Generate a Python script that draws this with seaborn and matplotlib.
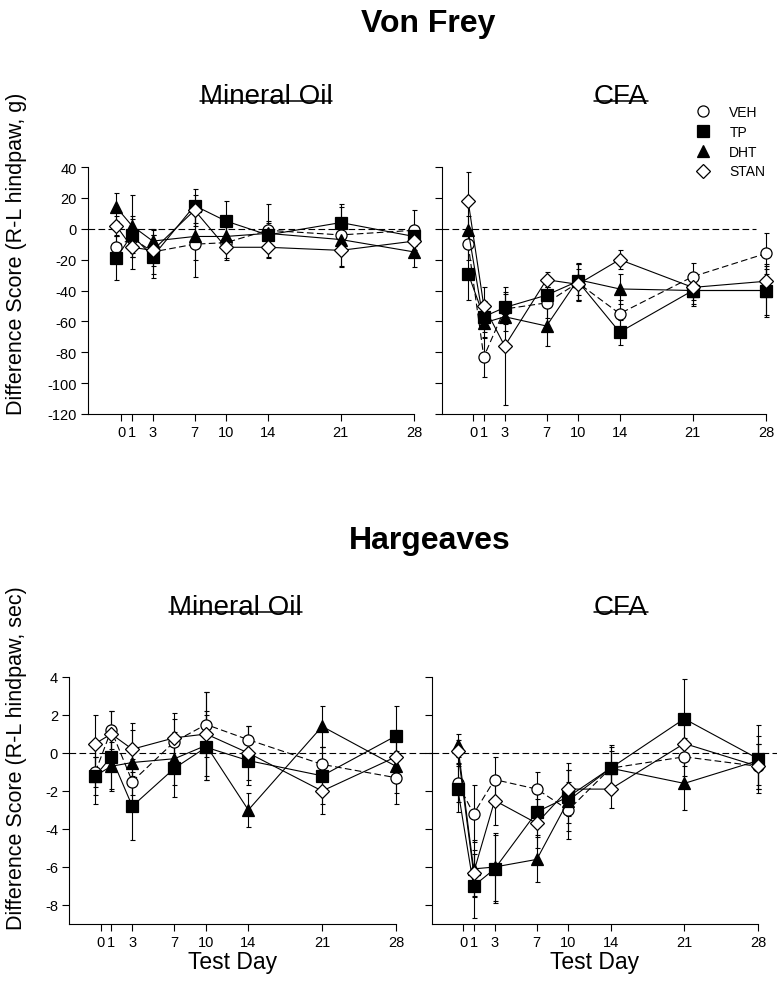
import numpy as np
import pandas as pd
import matplotlib
matplotlib.use("Agg")
import matplotlib.pyplot as plt
import seaborn as sns
from matplotlib.lines import Line2D

sns.set_theme(style="ticks")
plt.rcParams["font.family"] = ["Liberation Sans", "DejaVu Sans"]
plt.rcParams["text.color"] = "black"
plt.rcParams["axes.labelcolor"] = "black"
plt.rcParams["xtick.color"] = "black"
plt.rcParams["ytick.color"] = "black"

# ---------------------------------------------------------------- data
groups = ["VEH", "TP", "DHT", "STAN"]
test_days = [-0.5, 1, 3, 7, 10, 14, 21, 28]   # baseline plotted just before day 0
day_ticks = [0, 1, 3, 7, 10, 14, 21, 28]
vf_ticks = [-120, -100, -80, -60, -40, -20, 0, 20, 40]
hg_ticks = [-8, -6, -4, -2, 0, 2, 4]

# Von Frey (g), Mineral Oil
vf_mo_mean = {"VEH": [-12, -6, -15, -10, -9, -1, -4, -1],
              "TP": [-19, -4, -18, 15, 5, -4, 4, -5],
              "DHT": [14, 2, -8, -5, -5, -3, -7, -15],
              "STAN": [2, -12, -14, 12, -12, -12, -14, -8]}
vf_mo_se = {"VEH": [7, 12, 14, 21, 10, 17, 20, 13],
            "TP": [14, 12, 14, 11, 13, 8, 10, 6],
            "DHT": [9, 20, 8, 15, 8, 8, 9, 10],
            "STAN": [6, 14, 10, 10, 8, 7, 11, 8]}

# Von Frey (g), CFA
vf_cfa_mean = {"VEH": [-10, -83, -52, -48, -35, -55, -31, -16],
               "TP": [-29, -57, -51, -43, -34, -67, -40, -40],
               "DHT": [-1, -61, -57, -63, -33, -39, -40, -40],
               "STAN": [18, -50, -76, -33, -36, -20, -38, -34]}
vf_cfa_se = {"VEH": [10, 13, 10, 10, 12, 9, 9, 13],
             "TP": [17, 10, 10, 8, 12, 8, 10, 16],
             "DHT": [9, 10, 9, 13, 10, 10, 9, 17],
             "STAN": [19, 12, 38, 5, 10, 6, 8, 8]}

# Hargreaves (sec), Mineral Oil
hg_mo_mean = {"VEH": [-1.0, 1.2, -1.5, 0.6, 1.5, 0.7, -0.6, -1.3],
              "TP": [-1.2, -0.2, -2.8, -0.8, 0.3, -0.4, -1.2, 0.9],
              "DHT": [-1.2, -0.7, -0.5, -0.3, 0.4, -3.0, 1.4, -0.7],
              "STAN": [0.5, 1.0, 0.2, 0.8, 1.0, 0.0, -2.0, -0.2]}
hg_mo_se = {"VEH": [0.8, 1.0, 1.2, 1.2, 1.7, 0.7, 0.9, 1.4],
            "TP": [1.5, 1.7, 1.8, 1.5, 1.7, 1.3, 1.5, 1.6],
            "DHT": [1.0, 1.3, 1.7, 1.4, 1.8, 0.9, 1.1, 1.4],
            "STAN": [1.5, 1.2, 1.4, 1.3, 2.2, 1.4, 1.2, 1.4]}

# Hargreaves (sec), CFA
hg_cfa_mean = {"VEH": [-1.6, -3.2, -1.4, -1.9, -3.0, -0.8, -0.2, -0.7],
               "TP": [-1.9, -7.0, -6.1, -3.1, -2.3, -0.8, 1.8, -0.3],
               "DHT": [0.4, -6.1, -6.0, -5.6, -2.5, -0.8, -1.6, -0.4],
               "STAN": [0.1, -6.3, -2.5, -3.7, -1.9, -1.9, 0.5, -0.7]}
hg_cfa_se = {"VEH": [1.0, 1.5, 1.2, 0.9, 1.5, 0.9, 1.0, 1.2],
             "TP": [1.2, 1.7, 1.8, 1.2, 1.4, 1.2, 2.1, 1.8],
             "DHT": [0.6, 1.5, 1.8, 1.2, 1.6, 1.1, 1.4, 1.3],
             "STAN": [0.6, 1.2, 1.3, 1.3, 1.4, 1.0, 1.2, 1.2]}

# ---------------------------------------------------------------- tidy table
rows = []
for test, treat, means, ses in [("Von Frey", "Mineral Oil", vf_mo_mean, vf_mo_se),
                                ("Von Frey", "CFA", vf_cfa_mean, vf_cfa_se),
                                ("Hargeaves", "Mineral Oil", hg_mo_mean, hg_mo_se),
                                ("Hargeaves", "CFA", hg_cfa_mean, hg_cfa_se)]:
    for g in groups:
        for d, m, s in zip(test_days, means[g], ses[g]):
            rows.append(dict(test=test, treatment=treat, group=g, day=d, mean=m, se=s))
df = pd.DataFrame(rows)

# ---------------------------------------------------------------- styles
styles = {
    "VEH": dict(marker="o", markersize=8, markerfacecolor="white", linestyle=(0, (6, 3))),
    "TP": dict(marker="s", markersize=8, markerfacecolor="black", linestyle="-"),
    "DHT": dict(marker="^", markersize=8.5, markerfacecolor="black", linestyle="-"),
    "STAN": dict(marker="D", markersize=7, markerfacecolor="white", linestyle="-"),
}

W, H = 777, 987
fig = plt.figure(figsize=(W / 100, H / 100), dpi=100)


def px_axes(left, top, right, bottom):
    return fig.add_axes([left / W, 1 - bottom / H, (right - left) / W, (bottom - top) / H])


panels = [
    ("Von Frey", "Mineral Oil", px_axes(88, 168, 414, 415), (-3.2, 28), (-120, 40), vf_ticks, True, 28.0),
    ("Von Frey", "CFA", px_axes(442, 168, 766, 415), (-3.0, 28), (-120, 40), vf_ticks, False, 27.0),
    ("Hargeaves", "Mineral Oil", px_axes(69, 678, 396, 925), (-3.0, 28), (-9, 4), hg_ticks, True, 31.5),
    ("Hargeaves", "CFA", px_axes(432, 678, 758, 925), (-2.95, 28), (-9, 4), hg_ticks, False, 29.9),
]

tick_fs = 10.5
for test, treat, ax, xl, yl, yt, show_ylab, ref_end in panels:
    sub = df[(df.test == test) & (df.treatment == treat)]
    ax.plot([xl[0], ref_end], [0, 0], color="black", lw=0.8,
            linestyle=(0, (6, 3)), clip_on=False, zorder=1)
    for g in groups:
        d = sub[sub.group == g]
        ax.errorbar(d["day"], d["mean"], yerr=d["se"], fmt="none", ecolor="black",
                    elinewidth=0.8, capsize=1.8, capthick=0.8, zorder=2, clip_on=False)
        st = styles[g]
        sns.lineplot(data=d, x="day", y="mean", ax=ax, color="black", lw=0.8,
                     marker=st["marker"], markersize=st["markersize"],
                     markerfacecolor=st["markerfacecolor"], markeredgecolor="black",
                     markeredgewidth=0.9, linestyle=st["linestyle"],
                     errorbar=None, sort=False, legend=False, zorder=3)
    for ln in ax.lines:
        ln.set_clip_on(False)
    for c in ax.collections:
        c.set_clip_on(False)
    ax.set_xlim(*xl)
    ax.set_ylim(*yl)
    ax.set_xticks(day_ticks)
    ax.set_xticklabels([str(t) for t in day_ticks])
    ax.set_yticks(yt)
    ax.set_yticklabels([str(t) for t in yt])
    ax.tick_params(axis="both", direction="out", length=5, width=0.8,
                   labelsize=tick_fs, pad=3, color="black", labelcolor="black")
    if not show_ylab:
        ax.tick_params(axis="y", labelleft=False)
    ax.set_ylabel("")
    if test == "Hargeaves":
        ax.set_xlabel("Test Day", fontsize=16.5, labelpad=1, color="black")
    else:
        ax.set_xlabel("")
    sns.despine(ax=ax)
    for s in ("left", "bottom"):
        ax.spines[s].set_linewidth(0.8)
        ax.spines[s].set_color("black")
    ax.set_facecolor("white")

# ---------------------------------------------------------------- titles
fig.text(428 / W, 1 - 32 / H, "Von Frey", ha="center", va="baseline",
         fontsize=23, fontweight="bold", color="black")
fig.text(430 / W, 1 - 549 / H, "Hargeaves", ha="center", va="baseline",
         fontsize=23, fontweight="bold", color="black")

sub_titles = []
for label, cx, base in [("Mineral Oil", 266, 104), ("CFA", 621, 104),
                        ("Mineral Oil", 235.5, 615), ("CFA", 621, 615)]:
    t = fig.text(cx / W, 1 - base / H, label, ha="center", va="baseline",
                 fontsize=20, color="black")
    sub_titles.append((t, base))

fig.text(17 / W, 1 - 254 / H, "Difference Score (R-L hindpaw, g)", rotation=90,
         ha="center", va="center", fontsize=15.5, color="black")
fig.text(17 / W, 1 - 758 / H, "Difference Score (R-L hindpaw, sec)", rotation=90,
         ha="center", va="center", fontsize=15.5, color="black")

# legend for the treatment groups
handles = [Line2D([], [], color="black", lw=0, marker=styles[g]["marker"],
                  markersize=styles[g]["markersize"],
                  markerfacecolor=styles[g]["markerfacecolor"],
                  markeredgecolor="black", markeredgewidth=0.9) for g in groups]
leg = fig.legend(handles, groups, loc="upper left", bbox_to_anchor=(696 / W, 1 - 106 / H),
                 frameon=False, fontsize=10, handlelength=1.0, handletextpad=1.4,
                 labelspacing=0.42, borderpad=0, borderaxespad=0)
for txt in leg.get_texts():
    txt.set_color("black")

# underline the treatment headings
fig.canvas.draw()
renderer = fig.canvas.get_renderer()
for t, base in sub_titles:
    bb = t.get_window_extent(renderer)
    y = 1 - (base - 2) / H
    fig.add_artist(Line2D([bb.x0 / W, bb.x1 / W], [y, y], color="black", lw=1.1,
                          transform=fig.transFigure))

fig.savefig("out.png", dpi=100, facecolor="white")
